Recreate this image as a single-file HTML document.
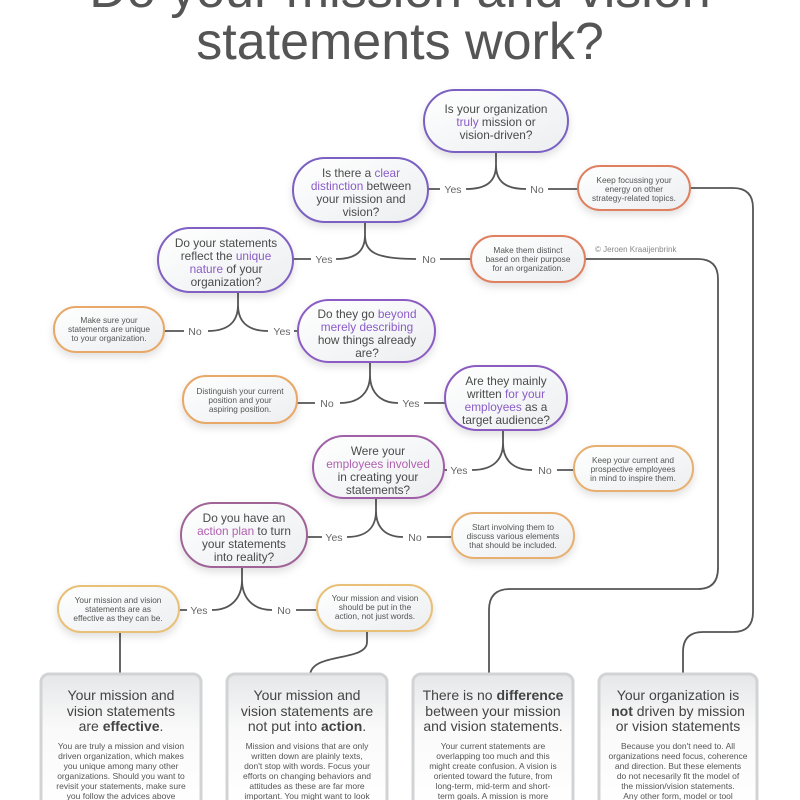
<!DOCTYPE html>
<html><head><meta charset="utf-8"><style>
html,body{margin:0;padding:0;background:#fff;width:800px;height:800px;overflow:hidden}
svg{display:block;font-family:"Liberation Sans",sans-serif}
.q{font-size:11.8px;fill:#4a4a4a;text-anchor:middle}
.a{font-size:8.3px;fill:#555;text-anchor:middle}
.l{font-size:10.5px;fill:#666;text-anchor:middle}
.p{fill:#8a5cc8}
.ln{fill:none;stroke:#555;stroke-width:1.8}
.h{font-size:14px;fill:#444;text-anchor:middle}
.b{font-size:8.5px;fill:#555;text-anchor:middle}
</style></head><body>
<svg width="800" height="800" viewBox="0 0 800 800">
<defs>
<linearGradient id="g" x1="0" y1="0" x2="1" y2="1"><stop offset="0" stop-color="#fff"/><stop offset="1" stop-color="#eceef0"/></linearGradient>
<linearGradient id="bg" x1="0" y1="0" x2="0" y2="1"><stop offset="0" stop-color="#e6e7e9"/><stop offset="0.4" stop-color="#fafafa"/><stop offset="1" stop-color="#fff"/></linearGradient>
<filter id="s" x="-20%" y="-20%" width="140%" height="160%"><feDropShadow dx="0" dy="4" stdDeviation="4" flood-color="#000" flood-opacity="0.12"/></filter>
</defs>
<text x="400" y="7" font-size="52" fill="#555" text-anchor="middle">Do your mission and vision</text>
<text x="400" y="59" font-size="52" fill="#555" text-anchor="middle">statements work?</text>

<g class="ln">
<path d="M496,152 V165 C496,182 486,189 466,189 M496,165 C496,182 506,189 526,189"/>
<path d="M428,189 H440 M548,189 H578"/>
<path d="M365,222 V235 C365,252 355,259 336,259 M365,235 C365,252 375,259 416,259"/>
<path d="M293,259 H311 M440,259 H471"/>
<path d="M238,292 V305 C238,322 228,331 208,331 M238,305 C238,322 248,331 268,331"/>
<path d="M164,331 H184 M294,331 H298"/>
<path d="M370,362 V375 C370,392 360,403 340,403 M370,375 C370,392 380,403 398,403"/>
<path d="M297,403 H315 M424,403 H445"/>
<path d="M503,430 V443 C503,460 493,470 472,470 M503,443 C503,460 513,470 532,470"/>
<path d="M444,470 H447 M557,470 H574"/>
<path d="M376,498 V511 C376,528 366,537 347,537 M376,511 C376,528 386,537 403,537"/>
<path d="M307,537 H322 M427,537 H452"/>
<path d="M242,567 V580 C242,597 232,610 212,610 M242,580 C242,597 252,610 272,610"/>
<path d="M179,610 H187 M296,610 H317"/>
<path d="M120,632 V675"/>
<path d="M367,631 V642 C367,662 312,652 310,675"/>
<path d="M585,259 H698 Q718,259 718,279 V568 Q718,589 698,589 H510 Q489,589 489,610 V675"/>
<path d="M690,188 H733 Q753,188 753,208 V612 Q753,632 733,632 H703 Q683,632 683,652 V675"/>
</g>
<g class="l">
<text x="453" y="193">Yes</text><text x="537" y="193">No</text>
<text x="324" y="263">Yes</text><text x="429" y="263">No</text>
<text x="195" y="335">No</text><text x="282" y="335">Yes</text>
<text x="327" y="407">No</text><text x="411" y="407">Yes</text>
<text x="459" y="474">Yes</text><text x="545" y="474">No</text>
<text x="334" y="541">Yes</text><text x="415" y="541">No</text>
<text x="199" y="614">Yes</text><text x="284" y="614">No</text>
</g>
<text x="595" y="252" font-size="8" fill="#888">© Jeroen Kraaijenbrink</text>

<g fill="url(#g)" stroke-width="2" filter="url(#s)">
<rect x="424" y="90" width="144" height="62" rx="31" stroke="#7a60c2"/>
<rect x="293" y="158" width="135" height="64" rx="32" stroke="#7a60c2"/>
<rect x="158" y="228" width="135" height="64" rx="32" stroke="#8060c2"/>
<rect x="298" y="300" width="137" height="62" rx="31" stroke="#8a5cc4"/>
<rect x="445" y="366" width="122" height="64" rx="32" stroke="#8a5cc0"/>
<rect x="313" y="436" width="131" height="62" rx="31" stroke="#a060a8"/>
<rect x="181" y="503" width="126" height="64" rx="32" stroke="#a06498"/>
</g>
<g class="q">
<text x="496" y="113">Is your organization</text><text x="496" y="126"><tspan class="p">truly</tspan> mission or</text><text x="496" y="139">vision-driven?</text>
<text x="361" y="177">Is there a <tspan class="p">clear</tspan></text><text x="361" y="190"><tspan class="p">distinction</tspan> between</text><text x="361" y="203">your mission and</text><text x="361" y="216">vision?</text>
<text x="226" y="247">Do your statements</text><text x="226" y="260">reflect the <tspan class="p">unique</tspan></text><text x="226" y="273"><tspan class="p">nature</tspan> of your</text><text x="226" y="286">organization?</text>
<text x="367" y="318">Do they go <tspan class="p">beyond</tspan></text><text x="367" y="331"><tspan class="p">merely describing</tspan></text><text x="367" y="344">how things already</text><text x="367" y="357">are?</text>
<text x="506" y="385">Are they mainly</text><text x="506" y="398">written <tspan class="p">for your</tspan></text><text x="506" y="411"><tspan class="p">employees</tspan> as a</text><text x="506" y="424">target audience?</text>
<text x="378" y="455">Were your</text><text x="378" y="468"><tspan fill="#b060b0">employees involved</tspan></text><text x="378" y="481">in creating your</text><text x="378" y="494">statements?</text>
<text x="244" y="522">Do you have an</text><text x="244" y="535"><tspan fill="#b060b0">action plan</tspan> to turn</text><text x="244" y="548">your statements</text><text x="244" y="561">into reality?</text>
</g>

<g fill="url(#g)" stroke-width="2" filter="url(#s)">
<rect x="578" y="166" width="112" height="44" rx="22" stroke="#df8060"/>
<rect x="471" y="236" width="114" height="46" rx="23" stroke="#df8060"/>
<rect x="54" y="307" width="110" height="45" rx="22" stroke="#e8a868"/>
<rect x="183" y="376" width="114" height="47" rx="23" stroke="#e8a868"/>
<rect x="574" y="446" width="119" height="45" rx="22" stroke="#e8b070"/>
<rect x="452" y="513" width="122" height="45" rx="22" stroke="#e8b070"/>
<rect x="58" y="586" width="121" height="46" rx="23" stroke="#e8c078"/>
<rect x="317" y="585" width="115" height="46" rx="23" stroke="#e8c078"/>
</g>
<g class="a">
<text x="634" y="183">Keep focussing your</text><text x="634" y="192">energy on other</text><text x="634" y="201">strategy-related topics.</text>
<text x="528" y="253">Make them distinct</text><text x="528" y="262">based on their purpose</text><text x="528" y="271">for an organization.</text>
<text x="109" y="323">Make sure your</text><text x="109" y="332">statements are unique</text><text x="109" y="341">to your organization.</text>
<text x="240" y="394">Distinguish your current</text><text x="240" y="403">position and your</text><text x="240" y="412">aspiring position.</text>
<text x="633" y="463">Keep your current and</text><text x="633" y="472">prospective employees</text><text x="633" y="481">in mind to inspire them.</text>
<text x="513" y="530">Start involving them to</text><text x="513" y="539">discuss various elements</text><text x="513" y="548">that should be included.</text>
<text x="118" y="603">Your mission and vision</text><text x="118" y="612">statements are as</text><text x="118" y="621">effective as they can be.</text>
<text x="375" y="601">Your mission and vision</text><text x="375" y="610">should be put in the</text><text x="375" y="619">action, not just words.</text>
</g>

<g fill="url(#bg)" stroke="#d2d3d5" stroke-width="3">
<rect x="41" y="674" width="160" height="140" rx="8"/>
<rect x="227" y="674" width="160" height="140" rx="8"/>
<rect x="413" y="674" width="160" height="140" rx="8"/>
<rect x="599" y="674" width="158" height="140" rx="8"/>
</g>
<g class="h">
<text x="121" y="700">Your mission and</text><text x="121" y="716">vision statements</text><text x="121" y="731">are <tspan font-weight="bold">effective</tspan>.</text>
<text x="307" y="700">Your mission and</text><text x="307" y="716">vision statements are</text><text x="307" y="731">not put into <tspan font-weight="bold">action</tspan>.</text>
<text x="493" y="700">There is no <tspan font-weight="bold">difference</tspan></text><text x="493" y="716">between your mission</text><text x="493" y="731">and vision statements.</text>
<text x="678" y="700">Your organization is</text><text x="678" y="716"><tspan font-weight="bold">not</tspan> driven by mission</text><text x="678" y="731">or vision statements</text>
</g>
<g class="b">
<text x="121" y="749">You are truly a mission and vision</text><text x="121" y="759">driven organization, which makes</text><text x="121" y="769">you unique among many other</text><text x="121" y="779">organizations. Should you want to</text><text x="121" y="789">revisit your statements, make sure</text><text x="121" y="799">you follow the advices above</text><text x="121" y="809">to strengthen them.</text>
<text x="307" y="749">Mission and visions that are only</text><text x="307" y="759">written down are plainly texts,</text><text x="307" y="769">don't stop with words. Focus your</text><text x="307" y="779">efforts on changing behaviors and</text><text x="307" y="789">attitudes as these are far more</text><text x="307" y="799">important. You might want to look</text><text x="307" y="809">into action plans or alternative</text>
<text x="493" y="749">Your current statements are</text><text x="493" y="759">overlapping too much and this</text><text x="493" y="769">might create confusion. A vision is</text><text x="493" y="779">oriented toward the future, from</text><text x="493" y="789">long-term, mid-term and short-</text><text x="493" y="799">term goals. A mission is more</text><text x="493" y="809">oriented towards the present. It</text>
<text x="678" y="749">Because you don't need to. All</text><text x="678" y="759">organizations need focus, coherence</text><text x="678" y="769">and direction. But these elements</text><text x="678" y="779">do not necesarily fit the model of</text><text x="678" y="789">the mission/vision statements.</text><text x="678" y="799">Any other form, model or tool</text><text x="678" y="809">can be used to give definition to</text>
</g>
</svg>
</body></html>
